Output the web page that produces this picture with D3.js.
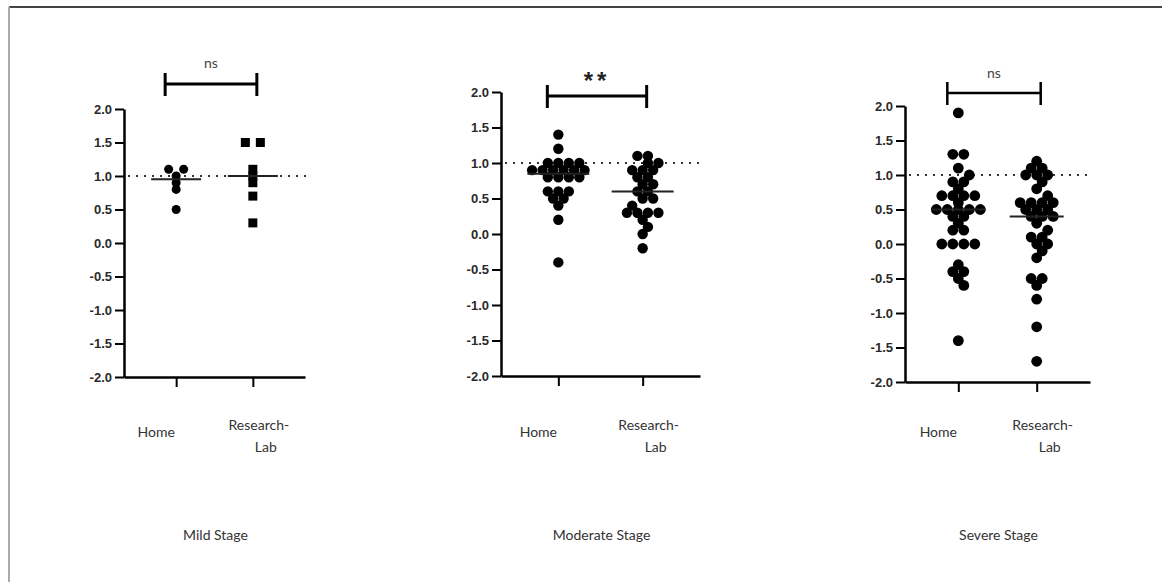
<!DOCTYPE html>
<html>
<head>
<meta charset="utf-8">
<script src="https://cdn.jsdelivr.net/npm/d3@7"></script>
<style>
  body { margin: 0; background: #fff; }
  .tick text { font-family: "Liberation Sans", Arial, sans-serif; font-weight: bold; font-size: 13px; fill: #2a2a2a; }
  .lbl { font-family: Lato, "Open Sans", sans-serif; font-size: 14px; fill: #333; }
</style>
</head>
<body>
<svg id="chart" width="1162" height="582"></svg>
<script>
// data
var categories = ["Home", "Research-Lab"];
var stages = ["Mild Stage", "Moderate Stage", "Severe Stage"];
var significance = ["ns", "**", "ns"];
var yTicks = [-2.0, -1.5, -1.0, -0.5, 0.0, 0.5, 1.0, 1.5, 2.0];
var refValue = 1.0;

var mildHome = [1.1, 1.1, 1.0, 0.9, 0.8, 0.5];
var mildLab = [1.5, 1.5, 1.1, 1.0, 0.9, 0.7, 0.3];

var moderateHome = [1.4, 1.2, 1.0, 1.0, 1.0, 1.0, 0.9, 0.9, 0.9, 0.9, 0.9, 0.9,
  0.8, 0.8, 0.8, 0.8, 0.6, 0.6, 0.6, 0.5, 0.5, 0.4, 0.2, -0.4];
var moderateLab = [1.1, 1.1, 1.0, 1.0, 0.9, 0.9, 0.9, 0.8, 0.8, 0.7, 0.7, 0.6, 0.6,
  0.5, 0.5, 0.4, 0.3, 0.3, 0.3, 0.3, 0.2, 0.1, 0.0, -0.2];

var severeHome = [1.9, 1.3, 1.3, 1.1, 1.0, 0.9, 0.9, 0.8, 0.7, 0.7, 0.7, 0.7, 0.6,
  0.5, 0.5, 0.5, 0.5, 0.5, 0.4, 0.4, 0.3, 0.2, 0.2, 0.0, 0.0, 0.0, 0.0,
  -0.3, -0.4, -0.4, -0.5, -0.6, -1.4];
var severeLab = [1.2, 1.1, 1.1, 1.0, 1.0, 1.0, 0.9, 0.8, 0.7, 0.6, 0.6, 0.6, 0.6,
  0.5, 0.5, 0.5, 0.4, 0.4, 0.4, 0.3, 0.2, 0.1, 0.1, 0.0, 0.0, -0.1, -0.2,
  -0.5, -0.5, -0.6, -0.8, -1.2, -1.7];

var seriesByStage = [[mildHome, mildLab], [moderateHome, moderateLab], [severeHome, severeLab]];

// panel layout
var panels = [
  { left: 124, right: 305, top: 109, bottom: 377, r: 4.5, step: 15, shapes: ["circle", "square"], barW: 3 },
  { left: 501, right: 700, top: 92, bottom: 376, r: 5.2, step: 10.5, shapes: ["circle", "circle"], barW: 3 },
  { left: 905, right: 1090, top: 106, bottom: 382, r: 5.4, step: 11, shapes: ["circle", "circle"], barW: 2.5 }
];
var medianHalf = [25, 31, 27];
var bracketY = [84, 96, 93];
var signY = [68, 80, 78];

var svg = d3.select("#chart");

// page frame
svg.append("line").attr("x1", 9).attr("x2", 1162).attr("y1", 7).attr("y2", 7)
  .attr("stroke", "#444").attr("stroke-width", 2);
svg.append("line").attr("x1", 9).attr("x2", 9).attr("y1", 7).attr("y2", 582)
  .attr("stroke", "#aaa").attr("stroke-width", 2);

// row based beeswarm: biggest rows go in first, centred, the rest shift around them
function swarm(values, y, step, thr) {
  var groups = d3.groups(values, function(v) { return v; })
    .sort(function(a, b) { return (b[1].length - a[1].length) || (b[0] - a[0]); });
  var placed = [];
  var shifts = [0, step / 2, -step / 2, step, -step];
  groups.forEach(function(g) {
    var n = g[1].length, yy = y(g[0]);
    var best = null, bestCost = Infinity;
    shifts.forEach(function(s) {
      var xs = d3.range(n).map(function(i) { return s + (i - (n - 1) / 2) * step; });
      var cost = Math.abs(s) * 0.08;
      xs.forEach(function(x) {
        placed.forEach(function(p) {
          var d = Math.hypot(p.dx - x, p.py - yy);
          if (d < thr) cost += (thr - d);
        });
      });
      if (cost < bestCost - 1e-9) { bestCost = cost; best = xs; }
    });
    best.forEach(function(x) { placed.push({ v: g[0], dx: x, py: yy }); });
  });
  return placed;
}

panels.forEach(function(p, k) {
  var g = svg.append("g");
  var y = d3.scaleLinear().domain([-2, 2]).range([p.bottom, p.top]);
  var x = d3.scalePoint().domain(categories).range([p.left, p.right]).padding(0.68);

  // reference line at 1.0
  g.append("line")
    .attr("x1", p.left + 4).attr("x2", p.right + 2)
    .attr("y1", y(refValue)).attr("y2", y(refValue))
    .attr("stroke", "#333").attr("stroke-width", 2).attr("stroke-dasharray", "2,6");

  var yAxis = g.append("g").attr("transform", "translate(" + p.left + ",0)")
    .call(d3.axisLeft(y).tickValues(yTicks).tickSize(9).tickSizeOuter(0).tickPadding(3)
      .tickFormat(function(d) { return d.toFixed(1); }));
  yAxis.select(".domain").attr("stroke-width", 2.5).attr("stroke", "#000");
  yAxis.selectAll(".tick line").attr("stroke-width", 2).attr("stroke", "#000");

  var xAxis = g.append("g").attr("transform", "translate(0," + p.bottom + ")")
    .call(d3.axisBottom(x).tickSize(10).tickSizeOuter(0).tickFormat(""));
  xAxis.select(".domain").attr("stroke-width", 2.5).attr("stroke", "#000");
  xAxis.selectAll(".tick line").attr("stroke-width", 2).attr("stroke", "#000");

  // points
  seriesByStage[k].forEach(function(vals, j) {
    var pts = swarm(vals, y, p.step, p.r * 2 * 0.8);
    var cx = x(categories[j]);
    var shape = p.shapes[j] === "square" ? d3.symbolSquare : d3.symbolCircle;
    var size = p.shapes[j] === "square" ? (p.r * 2) * (p.r * 2) : Math.PI * p.r * p.r;
    g.selectAll(null).data(pts).enter().append("path")
      .attr("d", d3.symbol().type(shape).size(size))
      .attr("transform", function(d) { return "translate(" + (cx + d.dx) + "," + y(d.v) + ")"; })
      .attr("fill", "#000");

    var med = d3.median(vals);
    g.append("line")
      .attr("x1", cx - medianHalf[k]).attr("x2", cx + medianHalf[k])
      .attr("y1", y(med)).attr("y2", y(med))
      .attr("stroke", "#222").attr("stroke-width", 2);
  });

  // significance bracket
  var bx1 = x(categories[0]) - 11, bx2 = x(categories[1]) + 4, by = bracketY[k];
  var br = g.append("g").attr("stroke", "#000").attr("stroke-width", p.barW);
  br.append("line").attr("x1", bx1).attr("x2", bx2).attr("y1", by).attr("y2", by);
  br.append("line").attr("x1", bx1).attr("x2", bx1).attr("y1", by - 11).attr("y2", by + 12);
  br.append("line").attr("x1", bx2).attr("x2", bx2).attr("y1", by - 11).attr("y2", by + 12);

  var sig = g.append("text").attr("x", (bx1 + bx2) / 2).attr("y", signY[k])
    .attr("text-anchor", "middle").text(significance[k]);
  if (significance[k] === "**") {
    sig.attr("font-family", "Liberation Sans, Arial, sans-serif").attr("font-size", 24)
      .attr("font-weight", "bold").attr("letter-spacing", 4).attr("fill", "#222").attr("y", signY[k] + 9);
  } else {
    sig.attr("class", "lbl").attr("font-size", 15).style("fill", "#444");
  }

  // category labels
  g.append("text").attr("class", "lbl").attr("text-anchor", "middle")
    .attr("x", x(categories[0]) - 20).attr("y", 437).text(categories[0]);
  var parts = categories[1].split("-");
  var rl = g.append("text").attr("class", "lbl").attr("text-anchor", "middle")
    .attr("x", x(categories[1]) + 6).attr("y", 430);
  rl.append("tspan").attr("x", x(categories[1]) + 6).text(parts[0] + "-");
  rl.append("tspan").attr("x", x(categories[1]) + 13).attr("dy", 22).text(parts[1]);

  // stage title
  g.append("text").attr("class", "lbl").attr("text-anchor", "middle")
    .attr("x", (p.left + p.right) / 2 + 1).attr("y", 540).text(stages[k]);
});
</script>
</body>
</html>
